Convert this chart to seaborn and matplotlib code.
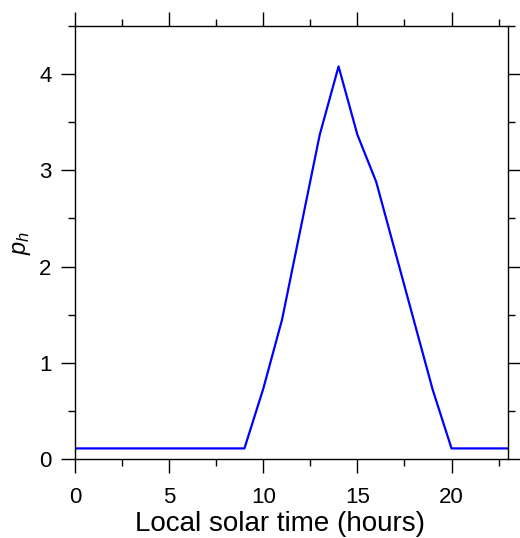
import matplotlib
matplotlib.use("Agg")
import matplotlib.pyplot as plt
import seaborn as sns
import pandas as pd
from matplotlib.ticker import MultipleLocator

hours = list(range(24))
p_h = [0.11, 0.11, 0.11, 0.11, 0.11, 0.11, 0.11, 0.11, 0.11, 0.11,
       0.73, 1.45, 2.41, 3.37, 4.08, 3.37, 2.88, 2.16, 1.44, 0.72,
       0.11, 0.11, 0.11, 0.11]
x_label = "Local solar time (hours)"
y_label = "$p_h$"

sns.set_style("ticks", rc={"text.color": "black", "axes.labelcolor": "black",
                           "xtick.color": "black", "ytick.color": "black",
                           "axes.edgecolor": "black"})
plt.rcParams['font.family'] = ['Liberation Sans', 'DejaVu Sans']
plt.rcParams['mathtext.fontset'] = 'custom'
plt.rcParams['mathtext.it'] = 'Liberation Sans:italic'
plt.rcParams['mathtext.rm'] = 'Liberation Sans'

df = pd.DataFrame({"hour": hours, "p": p_h})

fig = plt.figure(figsize=(5.2, 5.38), dpi=100)
ax = fig.add_axes([75/520, 1-459/538, 433/520, 433/538])
sns.lineplot(data=df, x="hour", y="p", ax=ax, color=(0, 0, 1), linewidth=1.6)

ax.set_xlim(0, 23)
ax.set_ylim(0, 4.5)
ax.xaxis.set_major_locator(MultipleLocator(5))
ax.xaxis.set_minor_locator(MultipleLocator(2.5))
ax.yaxis.set_major_locator(MultipleLocator(1))
ax.yaxis.set_minor_locator(MultipleLocator(0.5))
ax.tick_params(which='both', direction='out', top=True, right=True,
               labeltop=False, labelright=False, color='black', width=1.0)
ax.tick_params(which='major', length=10, labelsize=16)
ax.tick_params(axis='x', which='major', pad=10)
ax.tick_params(axis='y', which='major', pad=7)
ax.tick_params(which='minor', length=5)
for s in ax.spines.values():
    s.set_visible(True)
    s.set_linewidth(1.0)
    s.set_color('black')
ax.set_xlabel(x_label, fontsize=20, labelpad=2)
ax.xaxis.label.set_x((280 - 75) / 433)
ax.set_ylabel(y_label, fontsize=17, labelpad=4)

fig.savefig("out.png", dpi=100)
